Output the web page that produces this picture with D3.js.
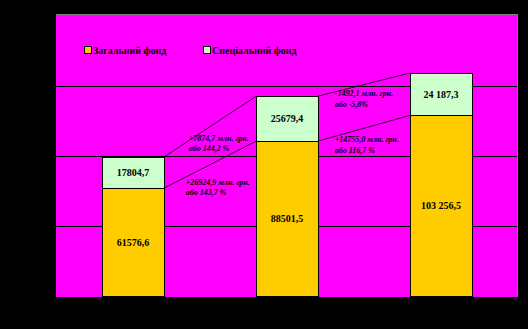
<!DOCTYPE html>
<html>
<head>
<meta charset="utf-8">
<script src="https://cdn.jsdelivr.net/npm/d3@7"></script>
<style>
  html, body { margin: 0; padding: 0; background: #000; }
  svg { display: block; }
</style>
</head>
<body>
<svg id="chart" width="528" height="329"></svg>
<script>
// Budget funds by period (млн. грн.)
const periods = ["p1", "p2", "p3"];
const generalFund = [61576.6, 88501.5, 103256.5];
const specialFund = [17804.7, 25679.4, 24187.3];
const generalLabels = ["61576,6", "88501,5", "103 256,5"];
const specialLabels = ["17804,7", "25679,4", "24 187,3"];
const seriesNames = ["Загальний фонд", "Спеціальний фонд"];
const yTicks = [0, 40000, 80000, 120000, 160000];

// Change notes between neighbouring columns: [special, general]
const changeNotes = [
  [["+7874,7 млн. грн.", "або 144,2 %"], ["+26924,9 млн. грн.", "або 143,7 %"]],
  [["-1492,1 млн. грн.", "або -5,8%"], ["+14755,0 млн. грн.", "або 116,7 %"]]
];
// note placement relative to the gap start / connector midpoint: [dx, dy]
const noteOffsets = [
  [[25, 14], [22, 20]],
  [[17, 11.5], [17, 14]]
];

const colors = { general: "#FFCC00", special: "#CCFFCC", plot: "#FF00FF" };

const svg = d3.select("#chart");
const plot = { left: 56, right: 518, top: 14, bottom: 296 };

const x = d3.scaleBand().domain(periods).range([plot.left, plot.right])
  .paddingInner(0.6).paddingOuter(0.3);
const y = d3.scaleLinear().domain([0, 160000]).range([plot.bottom, plot.top + 2]);

// plot background with grey frame on top/right
svg.append("rect").attr("x", plot.left).attr("y", plot.top)
  .attr("width", plot.right - plot.left).attr("height", plot.bottom - plot.top + 1)
  .attr("fill", colors.plot);
svg.append("path")
  .attr("d", `M${plot.left},${plot.top + 0.5}H${plot.right - 0.5}V${plot.bottom}`)
  .attr("fill", "none").attr("stroke", "#808080").attr("stroke-width", 1);

// gridlines
svg.append("g").selectAll("line").data(yTicks.filter(t => t > 0 && t < 160000)).join("line")
  .attr("x1", plot.left).attr("x2", plot.right - 1)
  .attr("y1", d => Math.round(y(d)) + 0.5).attr("y2", d => Math.round(y(d)) + 0.5)
  .attr("stroke", "#000").attr("stroke-width", 1);

const data = periods.map((p, i) => ({
  p, g: generalFund[i], s: specialFund[i], gl: generalLabels[i], sl: specialLabels[i]
}));

// connector lines between column tops
const conn = svg.append("g");
for (let i = 0; i < data.length - 1; i++) {
  const a = data[i], b = data[i + 1];
  const x1 = x(a.p) + x.bandwidth(), x2 = x(b.p);
  conn.append("line").attr("x1", x1).attr("x2", x2)
    .attr("y1", y(a.g + a.s)).attr("y2", y(b.g + b.s))
    .attr("stroke", "#000").attr("stroke-width", 0.8);
  conn.append("line").attr("x1", x1).attr("x2", x2)
    .attr("y1", y(a.g)).attr("y2", y(b.g))
    .attr("stroke", "#000").attr("stroke-width", 0.8);
}

// stacked bars
const bars = svg.append("g");
bars.selectAll("rect.g").data(data).join("rect").attr("class", "g")
  .attr("x", d => Math.round(x(d.p)) + 0.5).attr("width", Math.round(x.bandwidth()))
  .attr("y", d => Math.round(y(d.g)) + 0.5).attr("height", d => Math.round(y(0)) - Math.round(y(d.g)))
  .attr("fill", colors.general).attr("stroke", "#000").attr("stroke-width", 1);
bars.selectAll("rect.s").data(data).join("rect").attr("class", "s")
  .attr("x", d => Math.round(x(d.p)) + 0.5).attr("width", Math.round(x.bandwidth()))
  .attr("y", d => Math.round(y(d.g + d.s)) + 0.5)
  .attr("height", d => Math.round(y(d.g)) - Math.round(y(d.g + d.s)))
  .attr("fill", colors.special).attr("stroke", "#000").attr("stroke-width", 1);

// x axis line
svg.append("line").attr("x1", plot.left).attr("x2", plot.right)
  .attr("y1", plot.bottom + 1.5).attr("y2", plot.bottom + 1.5)
  .attr("stroke", "#000").attr("stroke-width", 1);

// value labels
const valFont = "'Liberation Serif', 'Times New Roman', serif";
const labels = svg.append("g").attr("font-family", valFont).attr("font-weight", "bold")
  .attr("font-size", 10).attr("fill", "#000").attr("text-anchor", "middle");
labels.selectAll("text.g").data(data).join("text").attr("class", "g")
  .attr("x", d => x(d.p) + x.bandwidth() / 2)
  .attr("y", d => (y(0) + y(d.g)) / 2 + 3.5)
  .text(d => d.gl);
labels.selectAll("text.s").data(data).join("text").attr("class", "s")
  .attr("x", d => x(d.p) + x.bandwidth() / 2)
  .attr("y", d => (y(d.g) + y(d.g + d.s)) / 2 + 3.5)
  .text(d => d.sl);

// change notes, placed between columns under each connector
const notes = svg.append("g").attr("font-family", valFont).attr("font-weight", "bold")
  .attr("font-style", "italic").attr("font-size", 8).attr("fill", "#000");
for (let i = 0; i < data.length - 1; i++) {
  const a = data[i], b = data[i + 1];
  const gapL = x(a.p) + x.bandwidth();
  const mids = [(y(a.g + a.s) + y(b.g + b.s)) / 2, (y(a.g) + y(b.g)) / 2];
  mids.forEach((my, j) => {
    const [dx, dy] = noteOffsets[i][j];
    const tx = gapL + dx;
    const t = notes.append("text").attr("x", tx).attr("y", my + dy);
    changeNotes[i][j].forEach((ln, k) =>
      t.append("tspan").attr("x", tx).attr("dy", k === 0 ? 0 : 10.5).text(ln));
  });
}

// legend
const legend = svg.append("g").attr("font-family", valFont).attr("font-weight", "bold")
  .attr("font-size", 10).attr("fill", "#000");
const legendX = [84, 203];
[colors.general, colors.special].forEach((c, i) => {
  legend.append("rect").attr("x", legendX[i] + 0.5).attr("y", 46.5).attr("width", 7).attr("height", 7)
    .attr("fill", c).attr("stroke", "#000").attr("stroke-width", 1);
  legend.append("text").attr("x", legendX[i] + 9).attr("y", 54).text(seriesNames[i]);
});
</script>
</body>
</html>
